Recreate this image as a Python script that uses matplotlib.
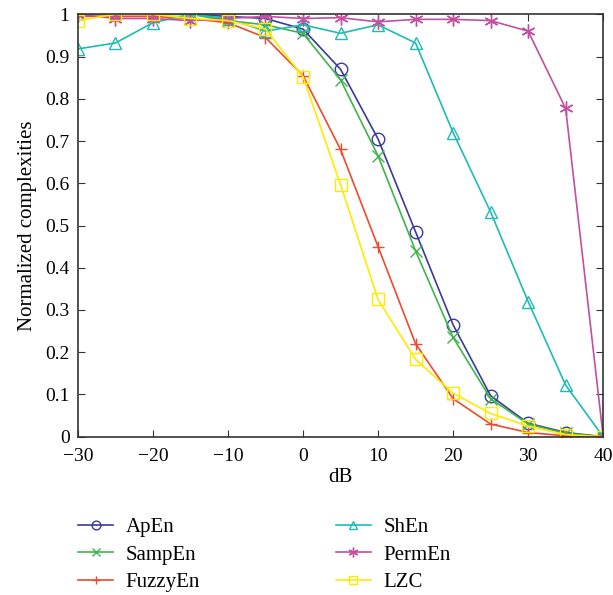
import numpy as np
import matplotlib
matplotlib.use("Agg")
import matplotlib.pyplot as plt

plt.rcParams['font.family'] = ['Liberation Serif', 'DejaVu Serif']

db = [-30, -25, -20, -15, -10, -5, 0, 5, 10, 15, 20, 25, 30, 35, 40]

apen = [1.0, 1.0, 1.0, 1.0, 0.995, 0.99, 0.965, 0.87, 0.705, 0.485, 0.265, 0.097, 0.032, 0.01, 0.0]
sampen = [1.0, 1.0, 1.0, 1.0, 0.985, 0.975, 0.955, 0.845, 0.665, 0.44, 0.235, 0.09, 0.03, 0.008, 0.0]
fuzzyen = [0.995, 0.995, 0.995, 0.99, 0.98, 0.945, 0.855, 0.68, 0.45, 0.22, 0.09, 0.03, 0.01, 0.002, 0.0]
shen = [0.918, 0.932, 0.98, 1.0, 0.99, 0.96, 0.975, 0.955, 0.975, 0.932, 0.72, 0.532, 0.32, 0.122, 0.0]
permen = [1.0, 0.99, 0.99, 0.985, 0.99, 0.995, 0.99, 0.992, 0.982, 0.988, 0.988, 0.985, 0.96, 0.777, 0.0]
lzc = [0.985, 1.0, 1.0, 0.99, 0.985, 0.965, 0.852, 0.597, 0.325, 0.183, 0.103, 0.055, 0.025, 0.005, 0.0]

labels = ["ApEn", "SampEn", "FuzzyEn", "ShEn", "PermEn", "LZC"]

# series styles
styles = [
    (apen, '#3a3a9c', 'o'),
    (sampen, '#3db54a', 'x'),
    (fuzzyen, '#f04a2c', '+'),
    (shen, '#1cbcb5', '^'),
    (permen, '#c24fa0', '*'),
    (lzc, '#ffea00', 's'),
]

fig = plt.figure(figsize=(6.13, 5.95), dpi=100)
ax = fig.add_axes([0.127, 0.266, 0.857, 0.71])

for (vals, col, mk), lab in zip(styles, labels):
    if mk == '*':
        ax.plot(db, vals, color=col, marker=(6, 2, 0), markersize=10, markeredgewidth=1.0,
                linewidth=1.2, label=lab)
    else:
        ax.plot(db, vals, color=col, marker=mk, markersize=9 if mk in 'o^' else 8,
                markerfacecolor='none', markeredgewidth=1.0, linewidth=1.2, label=lab)

ax.set_xlim(-30, 40)
ax.set_ylim(0, 1)
ax.set_xticks(np.arange(-30, 41, 10))
ax.set_xticklabels(['\u221230', '\u221220', '\u221210', '0', '10', '20', '30', '40'])
ax.set_yticks(np.arange(0, 1.01, 0.1))
ax.set_yticklabels(['0', '0.1', '0.2', '0.3', '0.4', '0.5', '0.6', '0.7', '0.8', '0.9', '1'])
ax.tick_params(direction='in', top=True, right=True, labelsize=14, length=5, color='#333333')
ax.tick_params(axis='x', pad=8)
ax.tick_params(axis='y', pad=6)
for s in ax.spines.values():
    s.set_color('#333333')
    s.set_linewidth(1.2)
ax.set_xlabel('dB', fontsize=15, labelpad=2)
ax.set_ylabel('Normalized complexities', fontsize=15, labelpad=6)

fig.legend(loc='upper left', bbox_to_anchor=(0.127, 0.13), ncol=2, frameon=False,
           fontsize=15, columnspacing=6.5, handlelength=1.7, handletextpad=0.6,
           labelspacing=0.38, markerscale=0.7, borderpad=0, borderaxespad=0)

fig.savefig('out.png', dpi=100)
